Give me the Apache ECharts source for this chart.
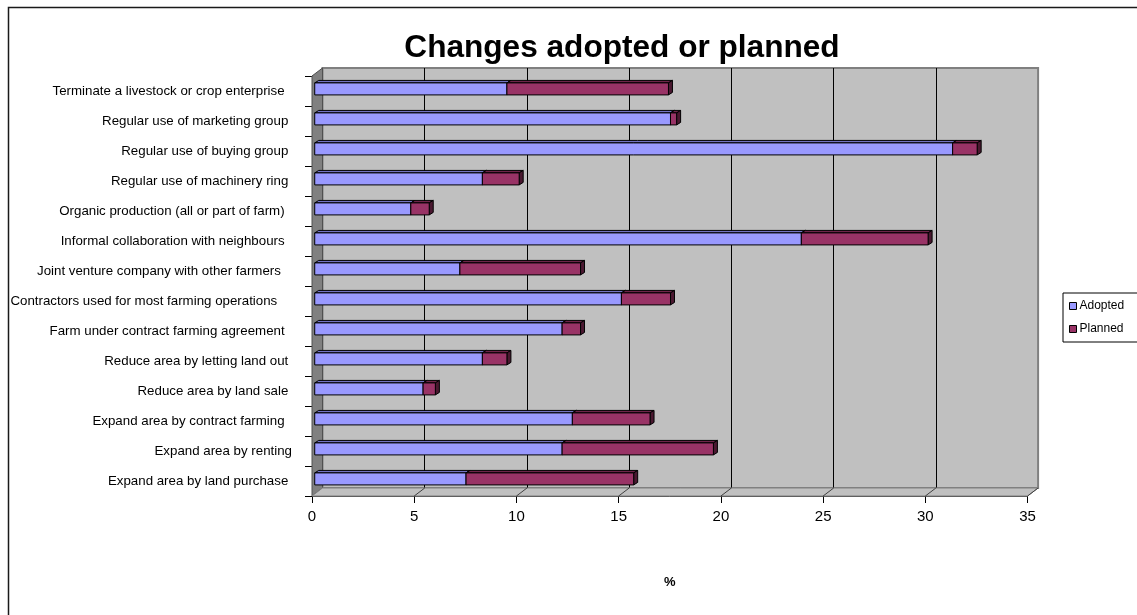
<!DOCTYPE html>
<html>
<head>
<meta charset="utf-8">
<script src="https://cdn.jsdelivr.net/npm/echarts@6/dist/echarts.min.js"></script>
<style>
  html, body { margin: 0; padding: 0; background: #fff; }
  #chart { width: 1137px; height: 615px; }
</style>
</head>
<body>
<div id="chart"></div>
<script>
// Survey categories, listed top to bottom (trailing blanks kept as in the source sheet)
const categories = [
  'Terminate a livestock or crop enterprise  ',
  'Regular use of marketing group ',
  'Regular use of buying group ',
  'Regular use of machinery ring ',
  'Organic production (all or part of farm)  ',
  'Informal collaboration with neighbours  ',
  'Joint venture company with other farmers   ',
  'Contractors used for most farming operations    ',
  'Farm under contract farming agreement  ',
  'Reduce area by letting land out ',
  'Reduce area by land sale ',
  'Expand area by contract farming  ',
  'Expand area by renting',
  'Expand area by land purchase '
];

// Share of farms (%)
const adopted = [9.4, 17.4, 31.2, 8.2, 4.7, 23.8, 7.1, 15.0, 12.1, 8.2, 5.3, 12.6, 12.1, 7.4];
const planned = [7.9, 0.3, 1.2, 1.8, 0.9, 6.2, 5.9, 2.4, 0.9, 1.2, 0.6, 3.8, 7.4, 8.2];

const xTicks = { min: 0, max: 35, interval: 5 };

const FONT = '"Liberation Sans", Arial, Helvetica, sans-serif';

// Pseudo-3D geometry: offset of the back wall from the front plane
const DEPTH = { x: 10.5, y: -8 };
const BAR_DEPTH = { x: 4, y: -2.5 };
const BAR_PLANE = 0.26;      // bars sit a little behind the front plane
const BAR_THICK = 0.4;       // front face height as share of the band

const FRONT = { left: 312, top: 76, width: 715.6, height: 420 };

const chart = echarts.init(document.getElementById('chart'), null, { renderer: 'canvas' });

function barRenderer(front, top, side) {
  return function (params, api) {
    const cat = api.value(0);
    const p0 = api.coord([api.value(1), cat]);
    const p1 = api.coord([api.value(2), cat]);
    const band = api.size([0, 1])[1];
    const h = band * BAR_THICK;
    const ox = DEPTH.x * BAR_PLANE, oy = DEPTH.y * BAR_PLANE;
    const x0 = p0[0] + ox, x1 = p1[0] + ox;
    const yc = p0[1] + oy;
    const yt = yc - h / 2, yb = yc + h / 2;
    const bx = BAR_DEPTH.x, by = BAR_DEPTH.y;
    const edge = { stroke: '#000', lineWidth: 1 };
    return {
      type: 'group',
      children: [
        { type: 'polygon', shape: { points: [[x0, yt], [x0 + bx, yt + by], [x1 + bx, yt + by], [x1, yt]] },
          style: Object.assign({ fill: top }, edge) },
        { type: 'polygon', shape: { points: [[x1, yt], [x1 + bx, yt + by], [x1 + bx, yb + by], [x1, yb]] },
          style: Object.assign({ fill: side }, edge) },
        { type: 'rect', shape: { x: x0, y: yt, width: x1 - x0, height: h },
          style: Object.assign({ fill: front }, edge) }
      ]
    };
  };
}

// Left wall and floor of the plot box
function wallRenderer(params, api) {
  const n = categories.length;
  const band = api.size([0, 1])[1];
  const firstC = api.coord([xTicks.min, 0]);
  const lastC = api.coord([xTicks.min, n - 1]);
  const x0 = firstC[0];
  const yTop = firstC[1] - band / 2;
  const yBot = lastC[1] + band / 2;
  const xEnd = api.coord([xTicks.max, n - 1])[0];
  const dx = DEPTH.x, dy = DEPTH.y;
  const children = [
    { type: 'polygon', shape: { points: [[x0, yTop], [x0 + dx, yTop + dy], [x0 + dx, yBot + dy], [x0, yBot]] },
      style: { fill: '#808080', stroke: '#505050', lineWidth: 1 } },
    { type: 'polygon', shape: { points: [[x0, yBot], [x0 + dx, yBot + dy], [xEnd + dx, yBot + dy], [xEnd, yBot]] },
      style: { fill: '#c0c0c0', stroke: '#808080', lineWidth: 1 } }
  ];
  for (let v = xTicks.min + xTicks.interval; v <= xTicks.max; v += xTicks.interval) {
    const x = api.coord([v, n - 1])[0];
    children.push({ type: 'line', shape: { x1: x, y1: yBot, x2: x + dx, y2: yBot + dy },
      style: { stroke: '#404040', lineWidth: 1 } });
  }
  return { type: 'group', children: children };
}

const adoptedData = categories.map((c, i) => [i, 0, adopted[i]]);
const plannedData = categories.map((c, i) => [i, adopted[i], adopted[i] + planned[i]]);

chart.setOption({
  animation: false,
  backgroundColor: '#fff',
  textStyle: { fontFamily: FONT },
  title: {
    text: 'Changes adopted or planned',
    left: 617, top: 27, textAlign: 'center',
    textStyle: { fontFamily: FONT, fontSize: 31.6, fontWeight: 'bold', color: '#000' }
  },
  graphic: [{
    type: 'rect', silent: true, z: -10,
    shape: { x: 8.5, y: 7.5, width: 1300, height: 800 },
    style: { fill: 'none', stroke: '#1a1a1a', lineWidth: 1.5 }
  }],
  legend: {
    data: ['Adopted', 'Planned'],
    orient: 'vertical',
    left: 1063, top: 293,
    icon: 'rect',
    itemWidth: 7, itemHeight: 7, itemGap: 11,
    padding: [7, 60, 7, 6],
    borderColor: '#000', borderWidth: 1, backgroundColor: '#fff',
    itemStyle: { borderColor: '#000', borderWidth: 1 },
    textStyle: { fontFamily: FONT, fontSize: 12, color: '#000', padding: [0, 0, 0, -2] },
    selectedMode: false
  },
  grid: [
    Object.assign({ containLabel: false }, FRONT),
    {
      left: FRONT.left + DEPTH.x, top: FRONT.top + DEPTH.y,
      width: FRONT.width, height: FRONT.height,
      show: true, backgroundColor: '#c0c0c0', borderColor: '#808080', borderWidth: 2, z: -1
    }
  ],
  xAxis: [
    {
      gridIndex: 0, type: 'value', min: xTicks.min, max: xTicks.max, interval: xTicks.interval,
      axisLine: { show: true, lineStyle: { color: '#404040', width: 1 } },
      axisTick: { show: true, length: 7, lineStyle: { color: '#000' } },
      axisLabel: { fontFamily: FONT, fontSize: 15, color: '#000', margin: 13 },
      splitLine: { show: false },
      name: '%', nameLocation: 'middle', nameGap: 80,
      nameTextStyle: { fontFamily: FONT, fontSize: 13, fontWeight: 'bold', color: '#000' }
    },
    {
      gridIndex: 1, type: 'value', min: xTicks.min, max: xTicks.max, interval: xTicks.interval,
      axisLine: { show: false }, axisTick: { show: false }, axisLabel: { show: false },
      splitLine: { show: true, showMinLine: false, showMaxLine: false, lineStyle: { color: '#000', width: 1 } }
    }
  ],
  yAxis: [
    {
      gridIndex: 0, type: 'category', data: categories, inverse: true,
      axisLine: { show: true, lineStyle: { color: '#000', width: 1 } },
      axisTick: { show: true, length: 7, lineStyle: { color: '#000' } },
      axisLabel: { fontFamily: FONT, fontSize: 13.3, color: '#000', margin: 20 },
      splitLine: { show: false }
    },
    {
      gridIndex: 1, type: 'category', data: categories, inverse: true, show: false
    }
  ],
  series: [
    {
      name: 'walls', type: 'custom', xAxisIndex: 0, yAxisIndex: 0,
      silent: true, z: 1, data: [[0, 0, 0]],
      encode: { x: 1, y: 0 },
      renderItem: wallRenderer
    },
    {
      name: 'Adopted', type: 'custom', xAxisIndex: 0, yAxisIndex: 0, z: 3,
      itemStyle: { color: '#9999ff', borderColor: '#000', borderWidth: 1 },
      data: adoptedData, encode: { x: [1, 2], y: 0 },
      renderItem: barRenderer('#9999ff', '#7272c4', '#4d4d8c')
    },
    {
      name: 'Planned', type: 'custom', xAxisIndex: 0, yAxisIndex: 0, z: 3,
      itemStyle: { color: '#993366', borderColor: '#000', borderWidth: 1 },
      data: plannedData, encode: { x: [1, 2], y: 0 },
      renderItem: barRenderer('#993366', '#6e2449', '#4a1830')
    }
  ]
});
</script>
</body>
</html>
